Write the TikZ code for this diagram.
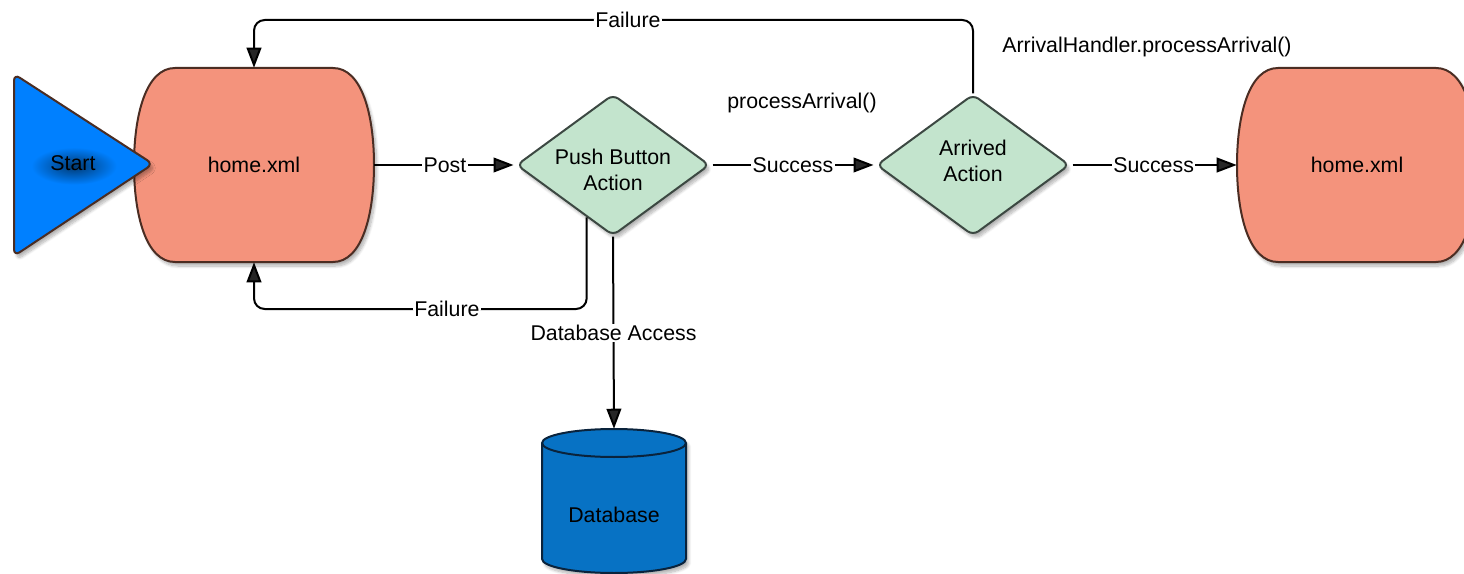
\documentclass[tikz,border=0pt]{standalone}
\usepackage{fontspec}
\setmainfont{Liberation Sans}
\usetikzlibrary{shapes.geometric,arrows.meta,calc,shadows.blur}
\definecolor{startblue}{RGB}{0,128,255}
\definecolor{salmon}{RGB}{244,147,124}
\definecolor{mint}{RGB}{195,228,205}
\definecolor{dbblue}{RGB}{7,114,196}
\definecolor{brownline}{RGB}{75,45,35}
\definecolor{greyline}{RGB}{60,72,66}
\definecolor{navyline}{RGB}{10,35,60}
\begin{document}
\begin{tikzpicture}[x=0.75pt,y=-0.75pt,
  font=\fontsize{16}{19.5}\selectfont,
  sh/.style={blur shadow={shadow xshift=2pt,shadow yshift=-3pt,shadow blur steps=8,shadow opacity=30}},
  conn/.style={line width=1.5pt,-{Triangle[length=15pt,width=11pt]}},
  lbl/.style={fill=white,inner sep=1pt},
  decision/.style={diamond,draw=greyline,line width=1.5pt,fill=mint,minimum width=144.75pt,minimum height=106pt,rounded corners=5pt,inner sep=0pt,sh},
  dtext/.style={align=center,inner sep=0pt},
  xmlbox/.style={rectangle,minimum width=180pt,minimum height=145.5pt,inner sep=0pt},
  xmlshape/.style={fill=salmon,draw=brownline,line width=1.5pt,sh}
]
\useasboundingbox (0,0) rectangle (1464,574);
% home.xml shapes
\begin{scope}[shift={(254,165)}]
\path[xmlshape] (-79,-97) -- (79,-97) .. controls (108,-97) and (120,-50) .. (120,0) .. controls (120,50) and (108,97) .. (79,97) -- (-79,97) .. controls (-108,97) and (-120,50) .. (-120,0) .. controls (-120,-50) and (-108,-97) .. (-79,-97) -- cycle;
\end{scope}
\begin{scope}[shift={(1357,165)}]
\path[xmlshape] (-79,-97) -- (79,-97) .. controls (108,-97) and (120,-50) .. (120,0) .. controls (120,50) and (108,97) .. (79,97) -- (-79,97) .. controls (-108,97) and (-120,50) .. (-120,0) .. controls (-120,-50) and (-108,-97) .. (-79,-97) -- cycle;
\end{scope}
\node[xmlbox] (home1) at (254,165) {home.xml};
\node[xmlbox] (home2) at (1357,165) {home.xml};
% start triangle
\path[fill=startblue,draw=brownline,line width=1.5pt,rounded corners=5pt,sh] (14,74) -- (153,164) -- (14,256) -- cycle;
\shade[inner color=startblue!45!black,outer color=startblue] (74,166) ellipse[x radius=32pt,y radius=14pt];
\node (start) at (73,163) {Start};
% decisions
\node[decision] (push) at (613,165) {};
\node[dtext] (pushtxt) at (613,170) {Push Button\\Action};
\node[decision] (arr) at (973,165) {};
\node[dtext] (arrtxt) at (973,161) {Arrived\\Action};
% database cylinder
\path[fill=dbblue,draw=navyline,line width=1.5pt,sh] (542,443) -- (542,559) arc[start angle=180,end angle=360,x radius=54pt,y radius=10.5pt] -- (686,443) arc[start angle=0,end angle=180,x radius=54pt,y radius=10.5pt] -- cycle;
\draw[navyline,line width=1.5pt] (542,443) arc[start angle=180,end angle=360,x radius=54pt,y radius=10.5pt];
\node[rectangle,minimum width=108pt,minimum height=129pt,inner sep=0pt] (db) at (614,515) {Database};
% free labels
\node (pa) at (802,103) {processArrival()};
\node (ah) at (1147,47) {ArrivalHandler.processArrival()};
% connectors
\coordinate (topy) at (0,20);
\coordinate (boty) at (0,309);
\coordinate (pb) at ($(push.south west)!0.46!(push.south)$);
\draw[conn,shorten >=1.5pt] (home1.east) -- node[lbl]{Post} (push.west);
\draw[conn,shorten <=1.5pt,shorten >=1.5pt] (push.east) -- node[lbl]{Success} (arr.west);
\draw[conn,shorten <=1.5pt] (arr.east) -- node[lbl]{Success} (home2.west);
\draw[conn,rounded corners=8pt] (arr.north) -- (arr.north |- topy) -- node[lbl,pos=0.48]{Failure} (home1.north |- topy) -- (home1.north);
\draw[conn,rounded corners=8pt] (pb) -- (pb |- boty) -- node[lbl,pos=0.42]{Failure} (home1.south |- boty) -- (home1.south);
\draw[conn] (push.south) -- node[lbl]{Database Access} (db.north);
\end{tikzpicture}
\end{document}
